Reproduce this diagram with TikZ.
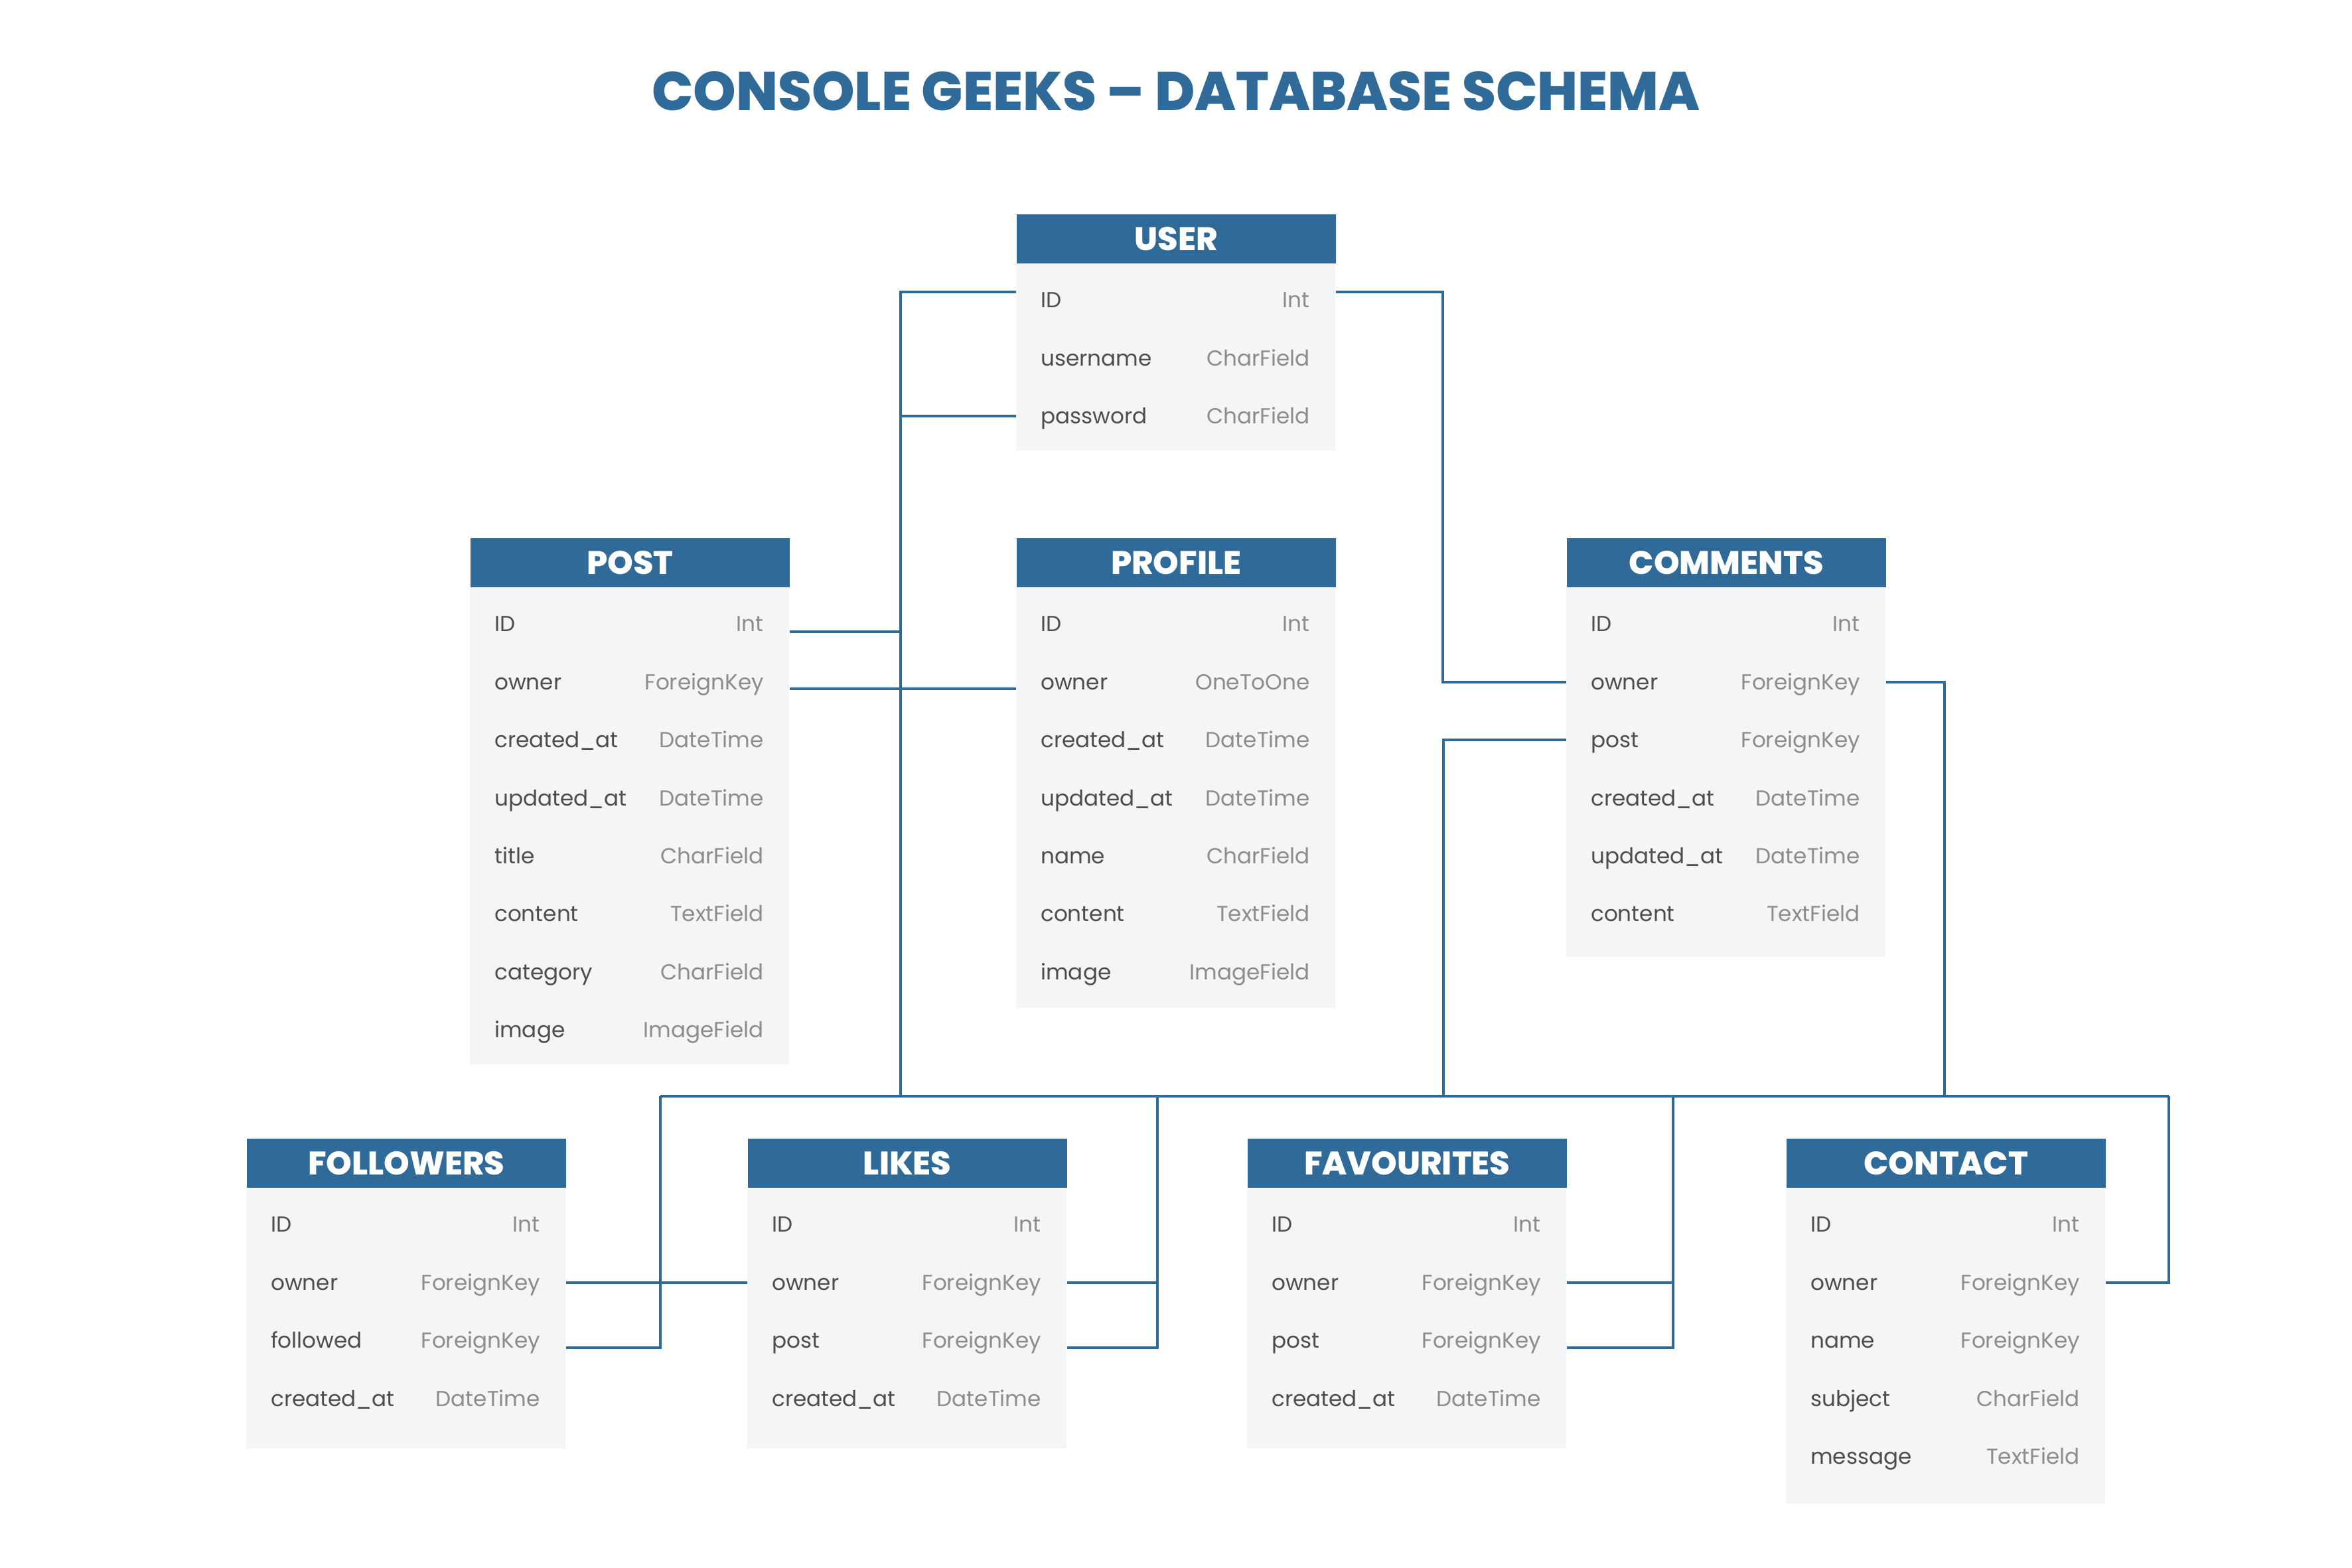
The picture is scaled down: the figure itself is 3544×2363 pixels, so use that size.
\documentclass[tikz,border=0pt]{standalone}
\usepackage{fontspec}
\setmainfont{Poppins}
\IfFontExistsTF{Poppins ExtraBold}
    {\newfontfamily\headfont{Poppins ExtraBold}}
    {\newcommand{\headfont}{\bfseries}}
\usetikzlibrary{positioning, calc}

\definecolor{headblue}{RGB}{48,106,152}
\definecolor{bodygray}{RGB}{244,245,247}
\definecolor{namegray}{RGB}{77,77,77}
\definecolor{typegray}{RGB}{140,140,140}

\tikzset{
    tablehead/.style={anchor=north west, fill=headblue, text=white,
        font=\fontsize{14}{16}\selectfont\headfont,
        minimum width=48.1mm, minimum height=7.4mm, inner sep=0pt},
    fieldrow/.style={text=namegray, font=\fontsize{9.3}{12}\selectfont,
        text width=40.3mm, inner xsep=3.9mm, inner ysep=0pt,
        text height=2.3mm, text depth=0pt},
    link/.style={draw=headblue, line width=0.4mm},
}

% name, top left corner, title, body height, rows field/type
\newcommand{\dbtable}[5]{%
    \node[tablehead] (#1) at (#2) {#3};
    \fill[bodygray] (#1.south west) rectangle ++(481,#4);
    \foreach \fname/\ftype [count=\i] in {#5}
        \node[fieldrow] (#1-\i) at ($(#1.south)+(0,{55+87.4*(\i-1)})$)
            {\hspace*{-0.25mm}\fname\hfill\textcolor{typegray}{\ftype}};
}

\begin{document}
\begin{tikzpicture}[x=0.1mm, y=-0.1mm]

        \fill[white] (0,0) rectangle (3544,2363);
        \useasboundingbox (0,0) rectangle (3544,2363);

        \node[text=headblue, font=\fontsize{23.4}{28}\selectfont\headfont] (title) at (1772,137)
            {CONSOLE GEEKS – DATABASE SCHEMA};

        %tables
        \dbtable{user}{1531,322}{USER}{282}{ID/Int, username/CharField, password/CharField}
        \dbtable{post}{708,810}{POST}{719}{ID/Int, owner/ForeignKey, created\_at/DateTime,
            updated\_at/DateTime, title/CharField, content/TextField, category/CharField,
            image/ImageField}
        \dbtable{profile}{1531,810}{PROFILE}{634}{ID/Int, owner/OneToOne, created\_at/DateTime,
            updated\_at/DateTime, name/CharField, content/TextField, image/ImageField}
        \dbtable{comments}{2360,810}{COMMENTS}{557}{ID/Int, owner/ForeignKey, post/ForeignKey,
            created\_at/DateTime, updated\_at/DateTime, content/TextField}
        \dbtable{followers}{371,1715}{FOLLOWERS}{393}{ID/Int, owner/ForeignKey,
            followed/ForeignKey, created\_at/DateTime}
        \dbtable{likes}{1126,1715}{LIKES}{393}{ID/Int, owner/ForeignKey, post/ForeignKey,
            created\_at/DateTime}
        \dbtable{favourites}{1879,1715}{FAVOURITES}{393}{ID/Int, owner/ForeignKey,
            post/ForeignKey, created\_at/DateTime}
        \dbtable{contact}{2691,1715}{CONTACT}{476}{ID/Int, owner/ForeignKey, name/ForeignKey,
            subject/CharField, message/TextField}

        %bus between the two rows of tables
        \coordinate (bus-a) at (995,1652);
        \coordinate (bus-b) at (1357,1652);
        \coordinate (bus-c) at (1744,1652);
        \coordinate (bus-d) at (2175,1652);
        \coordinate (bus-e) at (2521,1652);
        \coordinate (bus-f) at (2930,1652);
        \coordinate (bus-g) at (3268,1652);
        \draw[link] (bus-a) -- (bus-g);

        %upper links
        \draw[link] ([yshift=1.2mm]user-1.west) -| (bus-b);
        \draw[link] (user-3.west) -- (user-3.west -| bus-b);
        \draw[link] ([yshift=-1.2mm]post-1.east) -- ([yshift=-1.2mm]post-1.east -| bus-b);
        \draw[link] ([yshift=-1mm]post-2.east) -- ([yshift=-1mm]profile-2.west);
        \draw[link] ([yshift=1.2mm]user-1.east) -- ++(161,0) |- (comments-2.west);
        \draw[link] (comments-3.west) -| (bus-d);
        \draw[link] (comments-2.east) -| (bus-f);

        %lower links
        \draw[link] ([yshift=-1.1mm]followers-3.east) -| (bus-a);
        \draw[link] (followers-2.east) -- (likes-2.west);
        \draw[link] ([yshift=-1.1mm]likes-3.east) -| (bus-c);
        \draw[link] (likes-2.east) -- (likes-2.east -| bus-c);
        \draw[link] ([yshift=-1.1mm]favourites-3.east) -| (bus-e);
        \draw[link] (favourites-2.east) -- (favourites-2.east -| bus-e);
        \draw[link] (contact-2.east) -| (bus-g);

\end{tikzpicture}
\end{document}
